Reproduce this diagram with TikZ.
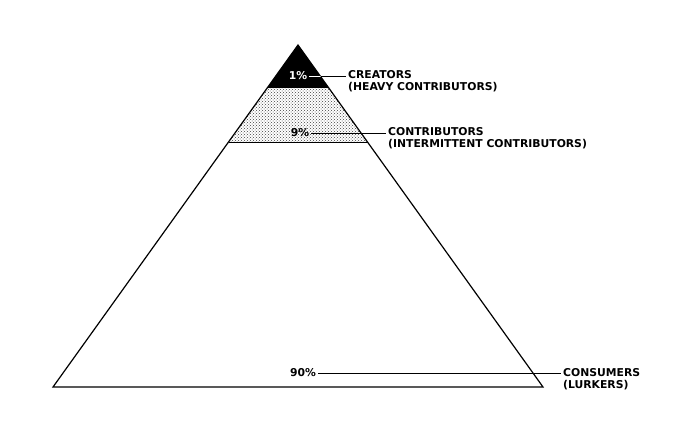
\documentclass[tikz,border=0pt]{standalone}
\usepackage{fontspec}
\setmainfont{DejaVu Sans}
\usetikzlibrary{patterns}

\tikzset{
  lbl/.style={font=\fontsize{10.8}{12}\selectfont\bfseries, inner xsep=2pt, inner ysep=1pt, text height=8pt, text depth=2pt},
  pct/.style={lbl},
  leader/.style={line width=0.9pt}
}

\begin{document}
\begin{tikzpicture}[x=1pt, y=-1pt]
\useasboundingbox (0,0) rectangle (680,442);
% Define the corners of the pyramid
\coordinate (apex) at (298,45);
\coordinate (bl) at (53,387);
\coordinate (br) at (543,387);
% Bands of the pyramid
\fill[black] (apex) -- (268,87) -- (328,87) -- cycle;
\fill[black!22, pattern=crosshatch dots, pattern color=black!75] (268,87) -- (328,87) -- (367.5,142) -- (228.5,142) -- cycle;
\draw[line width=1.2pt, line join=miter] (apex) -- (bl) -- (br) -- cycle;
\draw[line width=1pt] (268,87) -- (328,87);
\draw[line width=1pt] (228.5,142) -- (367.5,142);
% Define the percentages
\node[pct, text=white] (p1) at (298,76) {1\%};
\node[pct] (p9) at (300,133) {9\%};
\node[pct] (p90) at (303,373) {90\%};
% Define the group names
\node[lbl, anchor=west] (cre) at (346,75) {CREATORS};
\node[lbl, anchor=north west] (creSub) at (cre.south west) {(HEAVY CONTRIBUTORS)};
\node[lbl, anchor=west] (con) at (386,132) {CONTRIBUTORS};
\node[lbl, anchor=north west] (conSub) at (con.south west) {(INTERMITTENT CONTRIBUTORS)};
\node[lbl, anchor=west] (cons) at (561,373) {CONSUMERS};
\node[lbl, anchor=north west] (consSub) at (cons.south west) {(LURKERS)};
% Add leaders between percentages and names
\draw[leader] (p1.east) -- (p1.east -| cre.west);
\begin{scope}
  \clip (apex) -- (268,87) -- (328,87) -- cycle;
  \draw[leader, white] (p1.east) -- (p1.east -| cre.west);
\end{scope}
\draw[leader] (p9.east) -- (p9.east -| con.west);
\draw[leader] (p90.east) -- (p90.east -| cons.west);
\end{tikzpicture}
\end{document}
